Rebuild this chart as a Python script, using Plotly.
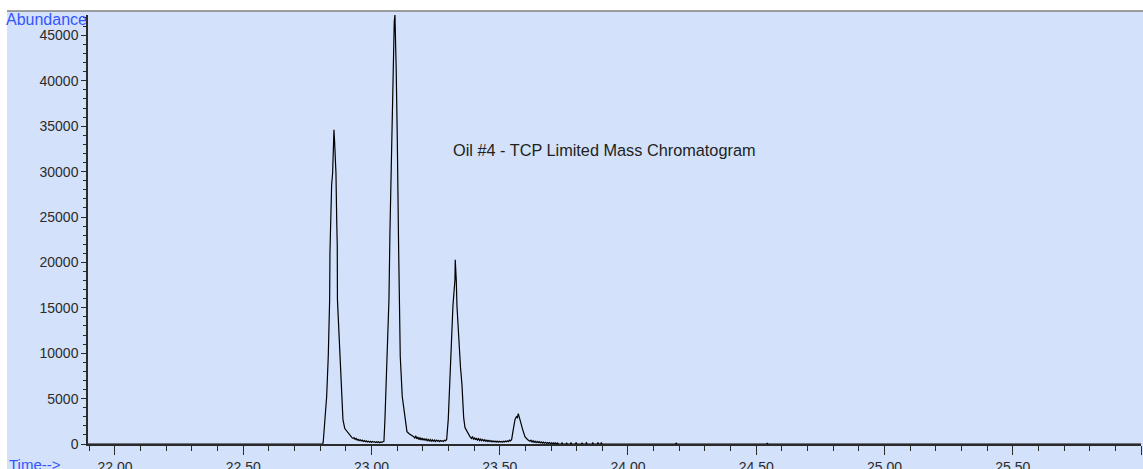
import plotly.graph_objects as go

# Retention time (min) and abundance
retention_time = [
    21.895, 22.800, 22.8100,
    # peak 1
    22.8121, 22.8190, 22.8253, 22.8316, 22.8370, 22.8382, 22.8400, 22.8448, 22.8487,
    22.8520, 22.8538, 22.8560, 22.8590, 22.8616, 22.8650, 22.8667, 22.8674, 22.8772,
    22.8838, 22.8889, 22.8960, 22.9045, 22.9130, 22.9240,
    # valley 1
    22.928, 22.932, 22.936, 22.940, 22.944, 22.948, 22.952, 22.956, 22.960, 22.964,
    22.968, 22.972, 22.976, 22.980, 22.984, 22.988, 22.992, 22.996, 23.000, 23.004,
    23.008, 23.012, 23.016, 23.020, 23.024, 23.028, 23.032, 23.036, 23.040, 23.044,
    # peak 2
    23.0487, 23.0526, 23.0616, 23.0682, 23.0721, 23.0760, 23.0788, 23.0810, 23.0838,
    23.0866, 23.0889, 23.0916, 23.0940, 23.0965, 23.1006, 23.1030, 23.1060, 23.1090,
    23.1123, 23.1201, 23.1306, 23.1384, 23.1480, 23.1579,
    # valley 2
    23.165, 23.169, 23.173, 23.177, 23.181, 23.185, 23.189, 23.193, 23.197, 23.201,
    23.205, 23.209, 23.213, 23.217, 23.221, 23.225, 23.229, 23.233, 23.237, 23.241,
    23.245, 23.249, 23.253, 23.257, 23.261, 23.265, 23.269, 23.273, 23.277, 23.281,
    23.285, 23.289,
    # peak 3
    23.2932, 23.2994, 23.3060, 23.3127, 23.3177, 23.3216, 23.3255, 23.3267, 23.3285,
    23.3306, 23.3333, 23.3411, 23.3470, 23.3528, 23.3595, 23.3645, 23.3730, 23.3840,
    # valley 3
    23.390, 23.394, 23.398, 23.402, 23.406, 23.410, 23.414, 23.418, 23.422, 23.426,
    23.430, 23.434, 23.438, 23.442, 23.446, 23.450, 23.454, 23.458, 23.462, 23.466,
    23.470, 23.474, 23.478, 23.482, 23.486, 23.490, 23.494, 23.498, 23.502, 23.506,
    23.510, 23.514, 23.518, 23.522, 23.526, 23.530, 23.534, 23.538, 23.542,
    # peak 4
    23.5466, 23.5528, 23.5595, 23.5650, 23.5690, 23.5723, 23.5750, 23.5789, 23.5895,
    23.5984, 23.6080, 23.6179,
    # tail
    23.622, 23.626, 23.630, 23.634, 23.638, 23.642, 23.646, 23.650, 23.654, 23.658,
    23.662, 23.666, 23.670, 23.674, 23.678, 23.682, 23.686, 23.690, 23.694, 23.698,
    23.702, 23.706, 23.710, 23.714, 23.718, 23.722, 23.726, 23.730, 23.740, 23.743,
    23.746, 23.758, 23.761, 23.764, 23.775, 23.778, 23.781, 23.795, 23.798, 23.801,
    23.818, 23.821, 23.824, 23.835, 23.838, 23.841, 23.860, 23.863, 23.866, 23.880,
    23.883, 23.886, 23.893, 23.896, 23.899, 24.185, 24.188, 24.191, 24.540, 24.543,
    24.546, 24.730, 24.733, 24.736, 26.000,
]

abundance = [
    0, 0, 0,
    # peak 1
    250, 2700, 5200, 9600, 15900, 21000, 23600, 28550, 29870,
    33000, 34600, 33500, 31000, 29870, 24000, 21840, 15900, 9620,
    5217, 2686, 1700, 1365, 1000, 700,
    # valley 1
    620, 700, 520, 610, 430, 520, 380, 470, 330, 420,
    290, 380, 250, 340, 220, 310, 200, 290, 180, 270,
    200, 260, 170, 250, 160, 240, 150, 230, 180, 260,
    # peak 2
    300, 2690, 9620, 15890, 23380, 28880, 32400, 38460, 41210,
    43190, 46490, 47250, 45000, 41210, 33830, 23380, 21400, 15890,
    9620, 5217, 2686, 1365, 1100, 924,
    # valley 2
    800, 620, 900, 560, 780, 480, 720, 450, 660, 420,
    600, 380, 560, 360, 520, 330, 480, 310, 460, 300,
    440, 280, 420, 300, 400, 270, 380, 300, 360, 280,
    420, 350,
    # peak 3
    500, 2686, 7858, 11050, 15230, 16660, 18090, 20290, 19500,
    18090, 15230, 11050, 8500, 6537, 2906, 1805, 1300, 814,
    # valley 3
    620, 820, 500, 700, 460, 640, 420, 580, 380, 540,
    360, 500, 330, 460, 300, 430, 280, 400, 260, 380,
    240, 350, 230, 330, 210, 320, 200, 300, 220, 290,
    200, 300, 230, 320, 240, 350, 260, 420, 330,
    # peak 4
    500, 1585, 2686, 3000, 2900, 3346, 3000, 2686, 1585,
    814, 500, 300,
    # tail
    420, 220, 350, 180, 300, 160, 280, 140, 250, 120,
    230, 100, 200, 90, 180, 70, 170, 60, 150, 40,
    140, 30, 130, 20, 120, 0, 110, 0, 0, 130,
    0, 0, 90, 0, 0, 120, 0, 0, 150, 0,
    0, 100, 0, 0, 140, 0, 0, 130, 0, 0,
    150, 0, 0, 120, 0, 0, 90, 0, 0, 80,
    0, 0, 80, 0, 0,
]

x_tick_vals = [22.0, 22.5, 23.0, 23.5, 24.0, 24.5, 25.0, 25.5, 26.0]
x_tick_text = ["22.00", "22.50", "23.00", "23.50", "24.00", "24.50", "25.00", "25.50", ""]
y_tick_vals = [0, 5000, 10000, 15000, 20000, 25000, 30000, 35000, 40000, 45000]
y_tick_text = ["0", "5000", "10000", "15000", "20000", "25000", "30000", "35000", "40000", "45000"]

title_text = "Oil #4 - TCP Limited Mass Chromatogram"

BG = "rgb(211,226,250)"
AXIS = "#2b2b2b"
BLUE = "#3355FF"

fig = go.Figure(
    go.Scatter(
        x=retention_time,
        y=abundance,
        mode="lines",
        line=dict(color="black", width=1.2),
        hoverinfo="skip",
    )
)

fig.update_layout(
    width=1143,
    height=469,
    margin=dict(l=88, r=2, t=15, b=25, autoexpand=False),
    paper_bgcolor=BG,
    plot_bgcolor=BG,
    showlegend=False,
    font=dict(family="Liberation Sans", size=14, color=AXIS),
)

fig.update_xaxes(
    range=[21.895, 26.0],
    automargin=False,
    tickmode="array",
    tickvals=x_tick_vals,
    ticktext=x_tick_text,
    ticks="outside",
    ticklen=9,
    tickwidth=1,
    tickcolor=AXIS,
    showline=True,
    linecolor=AXIS,
    linewidth=1.5,
    showgrid=False,
    zeroline=False,
    tickfont=dict(size=14, color=AXIS),
    minor=dict(tick0=22.0, dtick=0.1, ticks="outside", ticklen=5, tickwidth=1,
               tickcolor=AXIS, showgrid=False),
)

fig.update_yaxes(
    range=[0, 47250],
    automargin=False,
    tickmode="array",
    tickvals=y_tick_vals,
    ticktext=y_tick_text,
    ticks="outside",
    ticklen=5,
    tickwidth=1,
    tickcolor=AXIS,
    showline=True,
    linecolor=AXIS,
    linewidth=1.5,
    showgrid=False,
    zeroline=False,
    tickfont=dict(size=14, color=AXIS),
    minor=dict(tick0=0, dtick=1000, ticks="outside", ticklen=3, tickwidth=1,
               tickcolor=AXIS, showgrid=False),
)

fig.add_annotation(text="Abundance", xref="paper", yref="paper", x=0.0005, y=0.99,
                   xanchor="right", yanchor="middle", showarrow=False,
                   font=dict(size=16, color=BLUE))
fig.add_annotation(text="Time-->", xref="paper", yref="paper", x=-0.0769, y=-0.047,
                   xanchor="left", yanchor="middle", showarrow=False,
                   font=dict(size=15, color=BLUE))
fig.add_annotation(text=title_text, xref="x", yref="y", x=23.309, y=32380,
                   xanchor="left", yanchor="middle", showarrow=False,
                   font=dict(size=16.3, color="#222222"))

# white frame strips (top and left) and gray rule at the top of the blue area
fig.add_shape(type="rect", xref="paper", yref="paper", x0=-0.1, x1=1.01, y0=1.0093, y1=1.06,
              fillcolor="white", line=dict(width=0), layer="above")
fig.add_shape(type="rect", xref="paper", yref="paper", x0=-0.1, x1=-0.0769, y0=-0.1, y1=1.06,
              fillcolor="white", line=dict(width=0), layer="above")
fig.add_shape(type="line", xref="paper", yref="paper", x0=-0.0769, x1=1.01, y0=1.0093, y1=1.0093,
              line=dict(color="#808080", width=1.5), layer="above")

fig.write_html(
    "out.html",
    config={"displayModeBar": False},
    post_script="document.body.style.margin='0';document.body.style.overflow='hidden';",
)
